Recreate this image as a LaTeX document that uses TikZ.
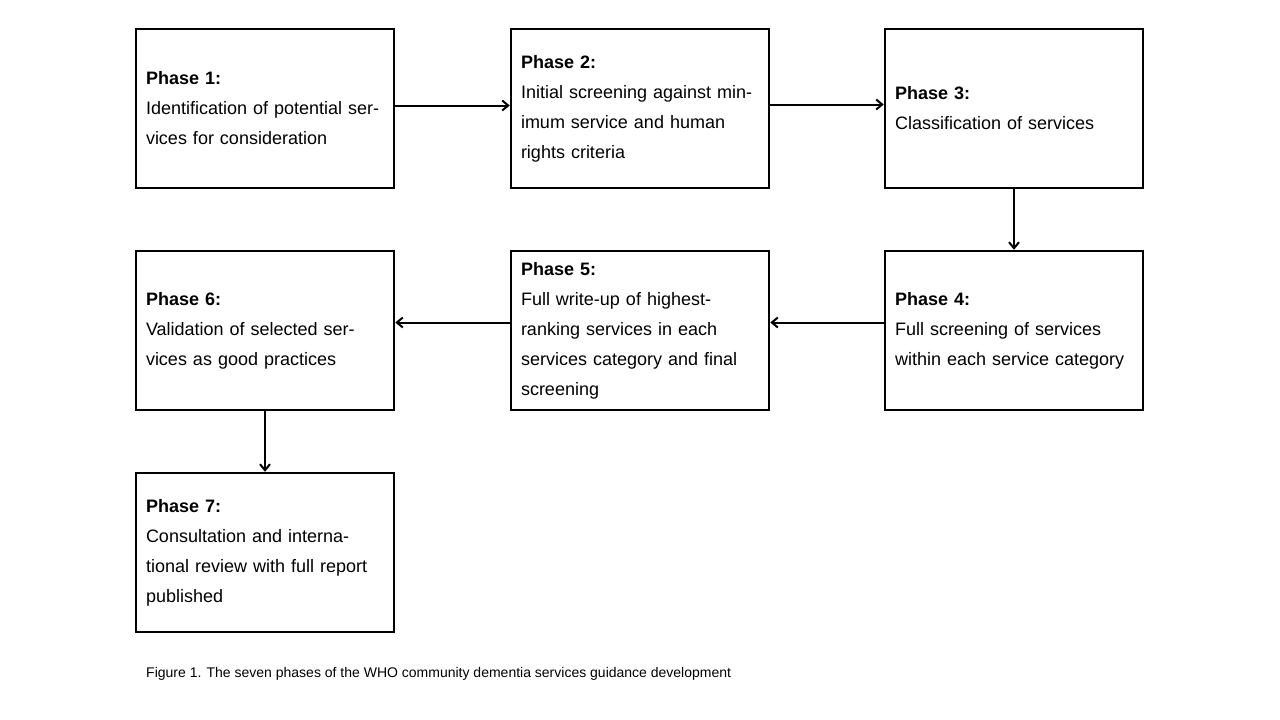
\documentclass[tikz,border=0pt]{standalone}
\usepackage{fontspec}
\setmainfont{Liberation Sans}
\usetikzlibrary{arrows.meta}
\begin{document}
\begin{tikzpicture}[x=1pt,y=-1pt,
  box/.style={draw,line width=2.5pt,minimum width=258pt,minimum height=159pt,text width=238pt,inner sep=10pt,align=left,font=\fontsize{18}{30}\selectfont},
  arr/.style={-{Straight Barb[length=6pt,width=10pt]},line width=2pt}]
\useasboundingbox (0,0) rectangle (1280,720);
\node[box] (p1) at (265,108.5) {\textbf{Phase 1:}\\Identification of potential services for consideration};
\node[box] (p2) at (640,108.5) {\textbf{Phase 2:}\\Initial screening against minimum service and human rights criteria};
\node[box] (p3) at (1014,108.5) {\textbf{Phase 3:}\\Classification of services\\[28pt]};
\node[box] (p4) at (1014,330.5) {\textbf{Phase 4:}\\Full screening of services within each service category};
\node[box] (p5) at (640,330.5) {\textbf{Phase 5:}\\Full write-up of highest-ranking services in each services category and final screening};
\node[box] (p6) at (265,330.5) {\textbf{Phase 6:}\\Validation of selected services as good practices};
\node[box] (p7) at (265,552.5) {\textbf{Phase 7:}\\Consultation and international review with full report published};
\draw[arr] ([yshift=3pt]p1.east) -- ([yshift=3pt]p2.west);
\draw[arr] ([yshift=4pt]p2.east) -- ([yshift=4pt]p3.west);
\draw[arr] (p3.south) -- (p4.north);
\draw[arr] ([yshift=8pt]p4.west) -- ([yshift=8pt]p5.east);
\draw[arr] ([yshift=8pt]p5.west) -- ([yshift=8pt]p6.east);
\draw[arr] (p6.south) -- (p7.north);
\node[anchor=west,inner sep=0pt,font=\fontsize{14}{16}\selectfont] (cap) at (146,674) {Figure 1. The seven phases of the WHO community dementia services guidance development};
\end{tikzpicture}
\end{document}
